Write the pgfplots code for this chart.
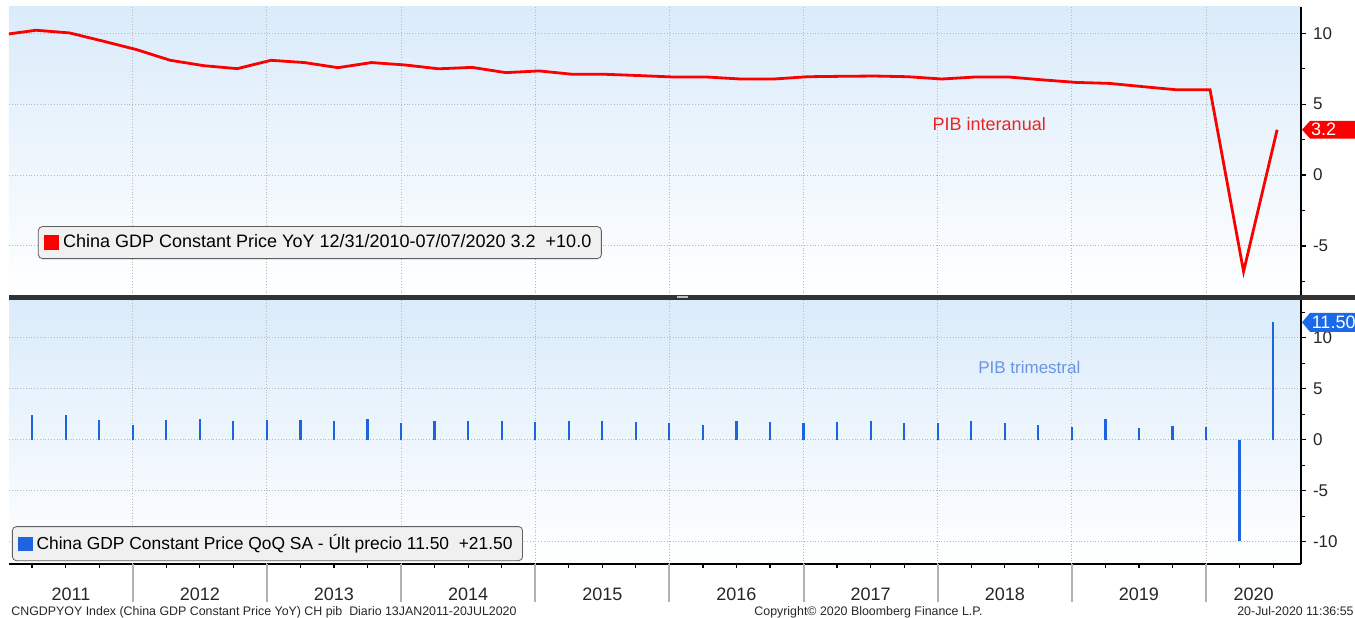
\documentclass[border=0pt]{standalone}
\usepackage{pgfplots}
\pgfplotsset{compat=1.18}
\usepackage{pgfplotstable}
\usepackage{fontspec}
\setmainfont{Liberation Sans}
\definecolor{bgtop}{RGB}{218,235,250}
\definecolor{gridc}{RGB}{185,185,185}
\definecolor{barblue}{RGB}{30,100,225}
\definecolor{tagblue}{RGB}{25,105,232}
\definecolor{lineRed}{RGB}{250,0,0}
\definecolor{legfill}{RGB}{240,240,240}
\definecolor{legdraw}{RGB}{95,95,95}
\definecolor{annblue}{RGB}{105,150,228}
\definecolor{annred}{RGB}{235,35,35}

% x = years since 1 Jan 2011
\pgfplotstableread{
x y
0.03 9.9
0.28 10.22
0.53 10.03
0.78 9.45
1.03 8.85
1.28 8.10
1.53 7.72
1.78 7.51
2.03 8.10
2.28 7.94
2.53 7.58
2.78 7.94
3.03 7.77
3.28 7.50
3.53 7.60
3.78 7.23
4.03 7.35
4.28 7.11
4.53 7.11
4.78 7.02
5.03 6.92
5.28 6.92
5.53 6.78
5.78 6.78
6.03 6.94
6.28 6.97
6.53 6.99
6.78 6.94
7.03 6.78
7.28 6.92
7.53 6.92
7.78 6.72
8.03 6.54
8.28 6.47
8.53 6.24
8.78 6.02
9.03 6.02
9.28 -6.8
9.53 3.2
}\yoy

\pgfplotstableread{
x y
0.25 2.42
0.5 2.42
0.75 1.90
1.0 1.44
1.25 1.90
1.5 2.06
1.75 1.80
2.0 1.96
2.25 1.90
2.5 1.80
2.75 2.06
3.0 1.60
3.25 1.80
3.5 1.80
3.75 1.80
4.0 1.70
4.25 1.87
4.5 1.80
4.75 1.70
5.0 1.60
5.25 1.41
5.5 1.80
5.75 1.73
6.0 1.60
6.25 1.70
6.5 1.80
6.75 1.64
7.0 1.64
7.25 1.87
7.5 1.64
7.75 1.44
8.0 1.28
8.25 2.00
8.5 1.18
8.75 1.34
9.0 1.28
9.25 -9.9
9.5 11.5
}\qoq

\pgfplotsset{
 bbg/.style={
  scale only axis, width=646pt,
  xmin=0.078, xmax=9.708,
  axis x line*=bottom, axis y line*=right,
  y axis line style={black, line width=0.75pt},
  axis background/.style={shade, top color=bgtop, bottom color=white},
  grid style={gridc, densely dotted, line width=0.5pt},
  xmajorgrids, ymajorgrids,
  tick align=outside,
  major tick length=2.5pt, minor tick length=2pt,
  ytick style={black, line width=0.6pt},
  yticklabel style={font=\fontsize{8.5}{10}\selectfont, text=black!85},
  /pgf/number format/assume math mode=true,
  clip mode=individual,
  legend style={draw=legdraw, fill=legfill, rounded corners=2pt,
    font=\fontsize{9}{11}\selectfont, inner xsep=3pt, inner ysep=2pt},
  legend cell align=left,
 }
}

\begin{document}
\begin{tikzpicture}
\path[use as bounding box] (0,0) rectangle (677.5pt,308.5pt);

% ---------- top panel ----------
\begin{axis}[bbg, at={(4.5pt,160.5pt)}, anchor=south west, height=144.5pt,
 ymin=-8.53, ymax=11.86, ytick={-5,0,5,10}, minor ytick={-7.5,-2.5,2.5,7.5},
 x axis line style={draw=none}, xtick={1,2,3,4,5,6,7,8,9},
 xticklabels={}, major x tick style={draw=none},
 legend style={at={(rel axis cs:0.0224,0.128)}, anchor=south west}]
\addplot[lineRed, line width=1.4pt,
  legend image code/.code={\fill[lineRed, sharp corners] (0pt,-3pt) rectangle (6pt,3pt);}] table {\yoy};
\addlegendentry{China GDP Constant Price YoY 12/31/2010-07/07/2020 3.2\ \ +10.0}
\node[anchor=west, text=annred, font=\fontsize{9}{11}\selectfont, inner sep=0pt]
  at (axis cs:6.96,3.6) {PIB interanual};
\fill[lineRed] ([xshift=0.5pt]axis cs:9.708,3.2) -- ([xshift=4.5pt,yshift=4.4pt]axis cs:9.708,3.2)
  -- ([xshift=27pt,yshift=4.4pt]axis cs:9.708,3.2) -- ([xshift=27pt,yshift=-4.4pt]axis cs:9.708,3.2)
  -- ([xshift=4.5pt,yshift=-4.4pt]axis cs:9.708,3.2) -- cycle;
\node[anchor=west, text=white, font=\fontsize{9}{10}\selectfont, inner sep=0pt]
  at ([xshift=4.8pt]axis cs:9.708,3.2) {3.2};
\end{axis}

% ---------- bottom panel ----------
\begin{axis}[bbg, at={(4.5pt,26.5pt)}, anchor=south west, height=132.5pt,
 ymin=-12.19, ymax=13.79, ytick={-10,-5,0,5,10}, minor ytick={-7.5,-2.5,2.5,7.5,12.5},
 x axis line style={black, line width=0.75pt},
 xmajorgrids=false,
 xtick={0.54,1.5,2.5,3.5,4.5,5.5,6.5,7.5,8.5,9.354},
 xticklabels={2011,2012,2013,2014,2015,2016,2017,2018,2019,2020},
 major x tick style={draw=none},
 minor xtick={0.25,0.5,...,9.5},
 minor x tick style={black, line width=0.6pt},
 extra x ticks={1,2,3,4,5,6,7,8,9},
 extra x tick labels={},
 extra x tick style={grid=major, major tick length=19pt,
   major x tick style={draw=gray!60, line width=1pt}},
 xticklabel style={font=\fontsize{9}{11}\selectfont, text=black!85, yshift=-6pt},
 legend style={at={(rel axis cs:0.0023,0.011)}, anchor=south west, font=\fontsize{8.7}{11}\selectfont}]
\addplot[ycomb, draw=barblue, line width=1.1pt, mark=none,
  legend image code/.code={\fill[barblue, sharp corners] (0pt,-3pt) rectangle (6pt,3pt);}] table {\qoq};
\addlegendentry{China GDP Constant Price QoQ SA - Últ precio 11.50\ \ +21.50}
\node[anchor=west, text=annblue, font=\fontsize{8.5}{10}\selectfont, inner sep=0pt]
  at (axis cs:7.30,7.08) {PIB trimestral};
\fill[tagblue] ([xshift=0.5pt]axis cs:9.708,11.5) -- ([xshift=4.5pt,yshift=4.75pt]axis cs:9.708,11.5)
  -- ([xshift=27pt,yshift=4.75pt]axis cs:9.708,11.5) -- ([xshift=27pt,yshift=-4.75pt]axis cs:9.708,11.5)
  -- ([xshift=4.5pt,yshift=-4.75pt]axis cs:9.708,11.5) -- cycle;
\node[anchor=west, text=white, font=\fontsize{9}{10}\selectfont, inner sep=0pt]
  at ([xshift=5.2pt]axis cs:9.708,11.5) {11.50};
\end{axis}

% separator
\fill[black!80] (4.5pt,158.5pt) rectangle (677.5pt,161pt);
\fill[gray!50] (338.5pt,159.6pt) rectangle (344pt,160.6pt);

% footer
\node[anchor=base west, font=\fontsize{6.2}{7}\selectfont, text=black!85, inner sep=0pt]
  at (5.5pt,1pt) {CNGDPYOY Index (China GDP Constant Price YoY) CH pib\ \ Diario 13JAN2011-20JUL2020};
\node[anchor=base west, font=\fontsize{6.2}{7}\selectfont, text=black!85, inner sep=0pt]
  at (377pt,1pt) {Copyright© 2020 Bloomberg Finance L.P.};
\node[anchor=base east, font=\fontsize{6.2}{7}\selectfont, text=black!85, inner sep=0pt]
  at (677pt,1pt) {20-Jul-2020 11:36:55};
\end{tikzpicture}
\end{document}
